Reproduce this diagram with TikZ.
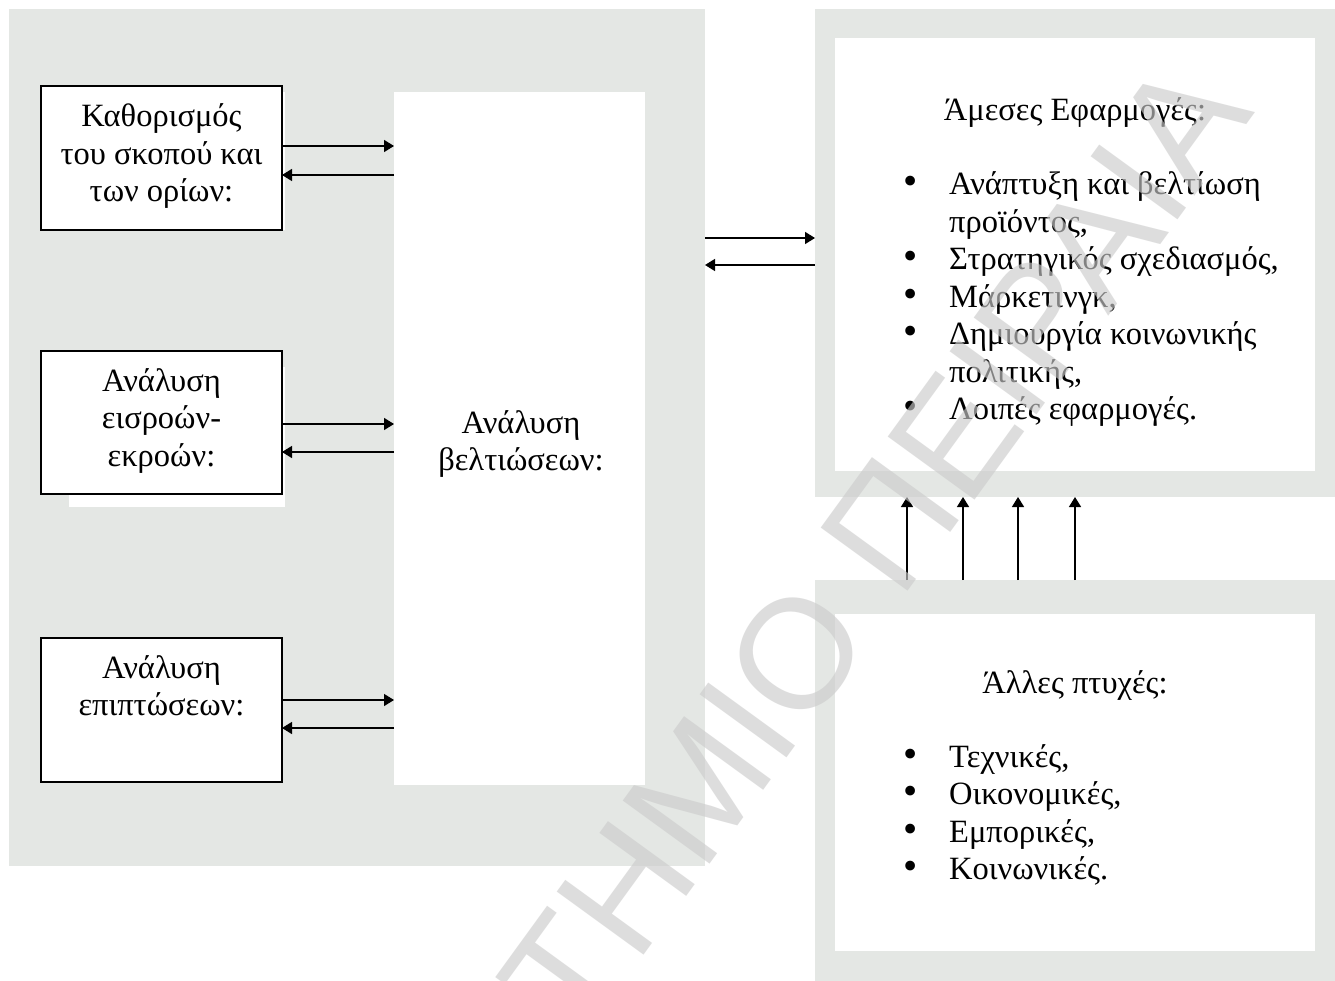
\documentclass[tikz,border=0pt]{standalone}
\usepackage{graphicx}
\usepackage{fontspec}
\setmainfont{Liberation Serif}
\newfontfamily\wmfont{Liberation Sans}
\usetikzlibrary{arrows.meta,calc}

\definecolor{panelgray}{RGB}{228,231,228}
\definecolor{wmgray}{RGB}{203,203,203}

\newcommand{\bodyfont}{\fontsize{32.5}{37.5}\selectfont}
\newcommand{\itemdot}{\makebox[46pt][l]{\scalebox{1.25}{•}}}
\newcommand{\itemgap}{\hspace*{46pt}}

\begin{document}
\begin{tikzpicture}[x=1pt,y=-1pt,
  panel/.style={fill=panelgray, draw=none, inner sep=0pt, outer sep=0pt, anchor=north west},
  sheet/.style={fill=white, draw=none, inner sep=0pt, outer sep=0pt, anchor=north west},
  stagebox/.style={fill=white, draw=black, line width=1.6pt, inner sep=0pt, outer sep=0pt,
                   anchor=north west, minimum width=241pt},
  txt/.style={inner sep=0pt, anchor=base, font=\bodyfont},
  listtxt/.style={inner sep=0pt, anchor=base west, font=\bodyfont},
  arr/.style={line width=1.4pt, -{Triangle[length=10pt,width=12pt]}},
  wm/.style={inner sep=0pt, font=\wmfont\fontsize{156}{156}\selectfont,
             text=wmgray, text opacity=0.64}
]
\useasboundingbox (0,0) rectangle (1335,981);
\fill[white] (0,0) rectangle (1335,981);

% grey panels
\node[panel, minimum width=696pt, minimum height=857pt] (lp) at (9,9) {};
\node[panel, minimum width=520pt, minimum height=488pt] (apps) at (815,9) {};
\node[panel, minimum width=520pt, minimum height=401pt] (other) at (815,580) {};

% white sheets
\node[sheet, minimum width=251pt, minimum height=693pt] (imp) at (394,92) {};
\node[sheet, minimum width=480pt, minimum height=433pt] (appsheet) at (835,38) {};
\node[sheet, minimum width=480pt, minimum height=337pt] (othersheet) at (835,614) {};

% white margins left around the first two stage boxes
\fill[white] (282,92) rectangle (285,230);
\fill[white] (69,367) rectangle (285,507);

% stage boxes on the left
\node[stagebox, minimum height=144pt] (b1) at (41,86) {};
\node[stagebox, minimum height=143pt] (b2) at (41,351) {};
\node[stagebox, minimum height=144pt] (b3) at (41,638) {};

\node[txt] (t1) at ($(b1.north)+(0,41)$)
  {\begin{tabular}[t]{@{}c@{}}Καθορισμός\\του σκοπού και\\των ορίων:\end{tabular}};
\node[txt] (t2) at ($(b2.north)+(0,40)$)
  {\begin{tabular}[t]{@{}c@{}}Ανάλυση\\εισροών-\\εκροών:\end{tabular}};
\node[txt] (t3) at ($(b3.north)+(0,40)$)
  {\begin{tabular}[t]{@{}c@{}}Ανάλυση\\επιπτώσεων:\end{tabular}};

% central analysis
\node[txt] (timp) at (521,433)
  {\begin{tabular}[t]{@{}c@{}}Ανάλυση\\βελτιώσεων:\end{tabular}};

% applications
\node[txt] (happs) at ($(appsheet.north)+(0,83)$) {Άμεσες Εφαρμογές:};
\node[listtxt] (lapps) at (903,195)
  {\begin{tabular}[t]{@{}l@{}}
   \itemdot Ανάπτυξη και βελτίωση\\
   \itemgap προϊόντος,\\
   \itemdot Στρατηγικός σχεδιασμός,\\
   \itemdot Μάρκετινγκ,\\
   \itemdot Δημιουργία κοινωνικής\\
   \itemgap πολιτικής,\\
   \itemdot Λοιπές εφαρμογές.
   \end{tabular}};

% other aspects
\node[txt] (hother) at ($(othersheet.north)+(0,79)$) {Άλλες πτυχές:};
\node[listtxt] (lother) at (903,767)
  {\begin{tabular}[t]{@{}l@{}}
   \itemdot Τεχνικές,\\
   \itemdot Οικονομικές,\\
   \itemdot Εμπορικές,\\
   \itemdot Κοινωνικές.
   \end{tabular}};

% two-way arrows between stages and the central analysis
\draw[arr] ($(b1.east)+(0,-12)$) -- ($(imp.west |- b1.east)+(0,-12)$);
\draw[arr] ($(imp.west |- b1.east)+(0,17)$) -- ($(b1.east)+(0,17)$);
\draw[arr] ($(b2.east)+(0,1.5)$) -- ($(imp.west |- b2.east)+(0,1.5)$);
\draw[arr] ($(imp.west |- b2.east)+(0,29.5)$) -- ($(b2.east)+(0,29.5)$);
\draw[arr] ($(b3.east)+(0,-10)$) -- ($(imp.west |- b3.east)+(0,-10)$);
\draw[arr] ($(imp.west |- b3.east)+(0,18)$) -- ($(b3.east)+(0,18)$);

% two-way arrows between the left panel and the applications
\draw[arr] (lp.east |- 0,238) -- (apps.west |- 0,238);
\draw[arr] (apps.west |- 0,265) -- (lp.east |- 0,265);

% upward arrows from the other aspects
\foreach \dx in {92,148,203,260}
  \draw[arr] ($(other.north west)+(\dx,0)$) -- ($(other.north west |- apps.south)+(\dx,0)$);

% watermark
\begin{scope}
\clip (0,0) rectangle (1335,981);
\node[wm, rotate=54, anchor=base west] (wmark) at (636,966) {\llap{ΠΑΝΕΠΙΣΤ}ΗΜΙΟ ΠΕΙΡΑΙΑ};
\end{scope}
\end{tikzpicture}
\end{document}
